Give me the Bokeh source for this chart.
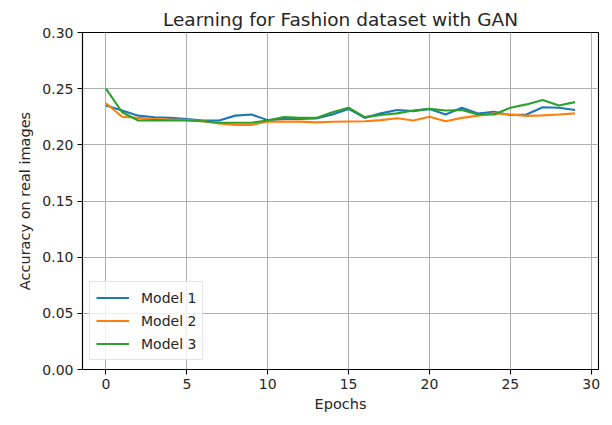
from bokeh.plotting import figure
from bokeh.models import FixedTicker, PrintfTickFormatter, Range1d, Legend, LegendItem
from bokeh.embed import file_html
from bokeh.resources import INLINE

epochs = list(range(30))
model1 = [0.235, 0.2306, 0.226, 0.2245, 0.224, 0.223, 0.2217, 0.2217, 0.226, 0.227,
          0.222, 0.223, 0.223, 0.2235, 0.227, 0.232, 0.224, 0.228, 0.231, 0.230,
          0.232, 0.227, 0.233, 0.2278, 0.2295, 0.2265, 0.227, 0.2335, 0.233, 0.231]
model2 = [0.237, 0.225, 0.224, 0.223, 0.2225, 0.222, 0.221, 0.219, 0.2177, 0.2177,
          0.2207, 0.2207, 0.2207, 0.220, 0.2205, 0.2208, 0.221, 0.222, 0.2237, 0.2217,
          0.225, 0.221, 0.224, 0.226, 0.228, 0.227, 0.2258, 0.2262, 0.227, 0.228]
model3 = [0.250, 0.229, 0.2217, 0.222, 0.2217, 0.2217, 0.221, 0.2197, 0.2197, 0.2197,
          0.2217, 0.2247, 0.224, 0.224, 0.229, 0.233, 0.2247, 0.2265, 0.228, 0.2305,
          0.232, 0.2305, 0.231, 0.227, 0.227, 0.233, 0.236, 0.240, 0.235, 0.238]
names = ["Model 1", "Model 2", "Model 3"]
colors = ["#1f77b4", "#ff7f0e", "#2ca02c"]
x_ticks = [0, 5, 10, 15, 20, 25, 30]
y_ticks = [0.0, 0.05, 0.10, 0.15, 0.20, 0.25, 0.30]

FONT = "DejaVu Sans"
TXT = "#262626"

p = figure(frame_width=516, frame_height=337, output_backend="svg", toolbar_location=None,
           x_range=Range1d(-1.45, 30.45), y_range=Range1d(0.0, 0.30),
           min_border_left=82, min_border_right=6, min_border_top=32, min_border_bottom=45,
           title="Learning for Fashion dataset with GAN")
p.background_fill_color = "white"
p.border_fill_color = "white"
p.outline_line_color = "black"
p.outline_line_width = 1.1

p.title.text_font = FONT
p.title.text_font_size = "18.5px"
p.title.text_font_style = "normal"
p.title.text_color = TXT
p.title.align = "center"
p.title.standoff = 6

for ax in (p.xaxis[0], p.yaxis[0]):
    ax.axis_line_color = "black"
    ax.axis_line_width = 1.1
    ax.major_tick_line_color = "black"
    ax.major_tick_line_width = 1.1
    ax.major_tick_out = 5
    ax.major_tick_in = 0
    ax.minor_tick_line_color = None
    ax.major_label_text_font = FONT
    ax.major_label_text_font_size = "14px"
    ax.major_label_text_color = TXT
    ax.axis_label_text_font = FONT
    ax.axis_label_text_font_size = "14.5px"
    ax.axis_label_text_font_style = "normal"
    ax.axis_label_text_color = TXT
    ax.major_label_standoff = 4

p.xaxis.ticker = FixedTicker(ticks=x_ticks)
p.yaxis.ticker = FixedTicker(ticks=y_ticks)
p.yaxis.formatter = PrintfTickFormatter(format="%.2f")
p.xaxis.axis_label = "Epochs"
p.yaxis.axis_label = "Accuracy on real images"
p.xaxis.axis_label_standoff = 4
p.yaxis.axis_label_standoff = 6

p.xgrid.ticker = FixedTicker(ticks=x_ticks)
p.ygrid.ticker = FixedTicker(ticks=y_ticks)
for g in (p.xgrid[0], p.ygrid[0]):
    g.grid_line_color = "#b0b0b0"
    g.grid_line_width = 1.1

items = []
for name, ys, c in zip(names, [model1, model2, model3], colors):
    r = p.line(epochs, ys, line_color=c, line_width=2.1)
    items.append(LegendItem(label=name, renderers=[r]))

legend = Legend(items=items, location=(7, 9))
legend.margin = 0
legend.padding = 6
legend.spacing = 4
legend.glyph_width = 33
legend.glyph_height = 19
legend.label_height = 19
legend.label_standoff = 12
legend.label_text_font = FONT
legend.label_text_font_size = "14px"
legend.label_text_color = TXT
legend.border_line_color = "#cccccc"
legend.border_line_width = 1
legend.background_fill_color = "white"
legend.background_fill_alpha = 0.8
p.add_layout(legend, "center")

open("out.html", "w").write(file_html(p, INLINE))
